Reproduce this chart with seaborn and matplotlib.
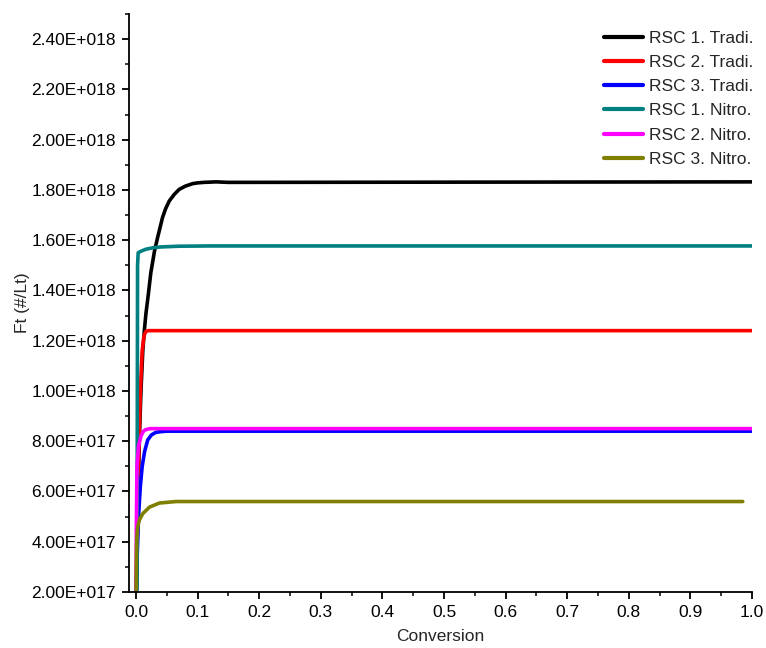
import numpy as np
import pandas as pd
import matplotlib
matplotlib.use("Agg")
import matplotlib.pyplot as plt
from matplotlib.ticker import MultipleLocator, FuncFormatter
import seaborn as sns

# Series labels and colours
labels = ["RSC 1. Tradi.", "RSC 2. Tradi.", "RSC 3. Tradi.",
          "RSC 1. Nitro.", "RSC 2. Nitro.", "RSC 3. Nitro."]
colors = ["#000000", "#FF0000", "#0000FF", "#008080", "#FF00FF", "#808000"]

# Conversion (x) and Ft in units of 1e17 #/Lt (y) for each series
rsc1_tradi_x = [0.0, 0.003, 0.0055, 0.008, 0.011, 0.0135, 0.016, 0.020, 0.024,
                0.030, 0.035, 0.043, 0.048, 0.054, 0.062, 0.070, 0.080, 0.092,
                0.10, 0.11, 0.13, 0.15, 1.0]
rsc1_tradi_y = [1.5, 5.5, 8.16, 10.0, 11.6, 12.4, 13.06, 13.85, 14.7,
                15.57, 16.1, 16.9, 17.25, 17.56, 17.82, 18.02, 18.15, 18.25,
                18.28, 18.3, 18.32, 18.3, 18.32]

rsc2_tradi_x = [0.0, 0.004, 0.007, 0.010, 0.013, 0.016, 0.02, 0.03, 1.0]
rsc2_tradi_y = [1.5, 7.0, 10.0, 11.6, 12.2, 12.37, 12.4, 12.4, 12.4]

rsc3_tradi_x = [0.0, 0.002, 0.004, 0.007, 0.010, 0.014, 0.019, 0.025, 0.032,
                0.04, 0.05, 1.0]
rsc3_tradi_y = [1.5, 3.5, 5.0, 6.2, 7.0, 7.6, 8.05, 8.25, 8.35, 8.38, 8.4, 8.4]

rsc1_nitro_x = [0.0015, 0.0025, 0.0035, 0.008, 0.016, 0.028, 0.04, 0.07,
                0.12, 0.2, 1.0]
rsc1_nitro_y = [1.5, 15.0, 15.5, 15.56, 15.64, 15.70, 15.73, 15.76,
                15.77, 15.77, 15.77]

rsc2_nitro_x = [0.0, 0.0005, 0.0015, 0.004, 0.008, 0.012, 0.016, 0.022, 0.03, 1.0]
rsc2_nitro_y = [1.5, 4.5, 7.0, 7.8, 8.2, 8.4, 8.46, 8.5, 8.5, 8.5]

rsc3_nitro_x = [0.0, 0.0005, 0.0011, 0.0028, 0.0054, 0.011, 0.022, 0.038,
                0.065, 0.1, 0.985]
rsc3_nitro_y = [1.5, 3.2, 4.06, 4.6, 4.86, 5.12, 5.38, 5.54, 5.6, 5.6, 5.6]

series = [
    (rsc1_tradi_x, rsc1_tradi_y),
    (rsc2_tradi_x, rsc2_tradi_y),
    (rsc3_tradi_x, rsc3_tradi_y),
    (rsc1_nitro_x, rsc1_nitro_y),
    (rsc2_nitro_x, rsc2_nitro_y),
    (rsc3_nitro_x, rsc3_nitro_y),
]

frames = []
for lab, (xs, ys) in zip(labels, series):
    frames.append(pd.DataFrame({"Conversion": xs,
                                "Ft": np.array(ys) * 1e17,
                                "Series": lab}))
df = pd.concat(frames, ignore_index=True)

sns.set_theme(style="ticks")
plt.rcParams["font.family"] = ["Liberation Sans", "DejaVu Sans"]

FS = 12.5

fig = plt.figure(figsize=(7.66, 6.48), dpi=100)
ax = fig.add_axes([129 / 766, 56 / 648, 623 / 766, 578 / 648])

sns.lineplot(data=df, x="Conversion", y="Ft", hue="Series",
             hue_order=labels, palette=colors, estimator=None, sort=False,
             linewidth=2.6, ax=ax)

ax.set_xlim(-0.0114, 1.0)
ax.set_ylim(2.0e17, 2.5e18)

ax.xaxis.set_major_locator(MultipleLocator(0.1))
ax.xaxis.set_minor_locator(MultipleLocator(0.05))
ax.yaxis.set_major_locator(MultipleLocator(2e17))
ax.yaxis.set_minor_locator(MultipleLocator(1e17))


def sci_label(v, pos):
    if v == 0:
        return "0"
    exp = int(np.floor(np.log10(abs(v)) + 1e-9))
    mant = v / 10 ** exp
    return f"{mant:.2f}E+{exp:03d}"


ax.yaxis.set_major_formatter(FuncFormatter(sci_label))
ax.xaxis.set_major_formatter(FuncFormatter(lambda v, p: f"{v:.1f}"))

for side in ["top", "right"]:
    ax.spines[side].set_visible(False)
for side in ["left", "bottom"]:
    ax.spines[side].set_linewidth(1.3)
    ax.spines[side].set_color("black")

ax.tick_params(axis="both", which="major", direction="out", length=5,
               width=1.3, labelsize=FS, colors="black", pad=4.5)
ax.tick_params(axis="both", which="minor", direction="out", length=3,
               width=1.1, colors="black")

ax.set_xlabel("Conversion", fontsize=FS, labelpad=6)
ax.set_ylabel("Ft (#/Lt)", fontsize=FS, labelpad=1)

leg = ax.legend(loc="upper right", bbox_to_anchor=(1.0128, 0.983),
                frameon=False, fontsize=FS, handlelength=2.25,
                labelspacing=0.52, handletextpad=0.3, borderaxespad=0.0)
for line in leg.get_lines():
    line.set_linewidth(3)

fig.savefig("out.png", dpi=100)
